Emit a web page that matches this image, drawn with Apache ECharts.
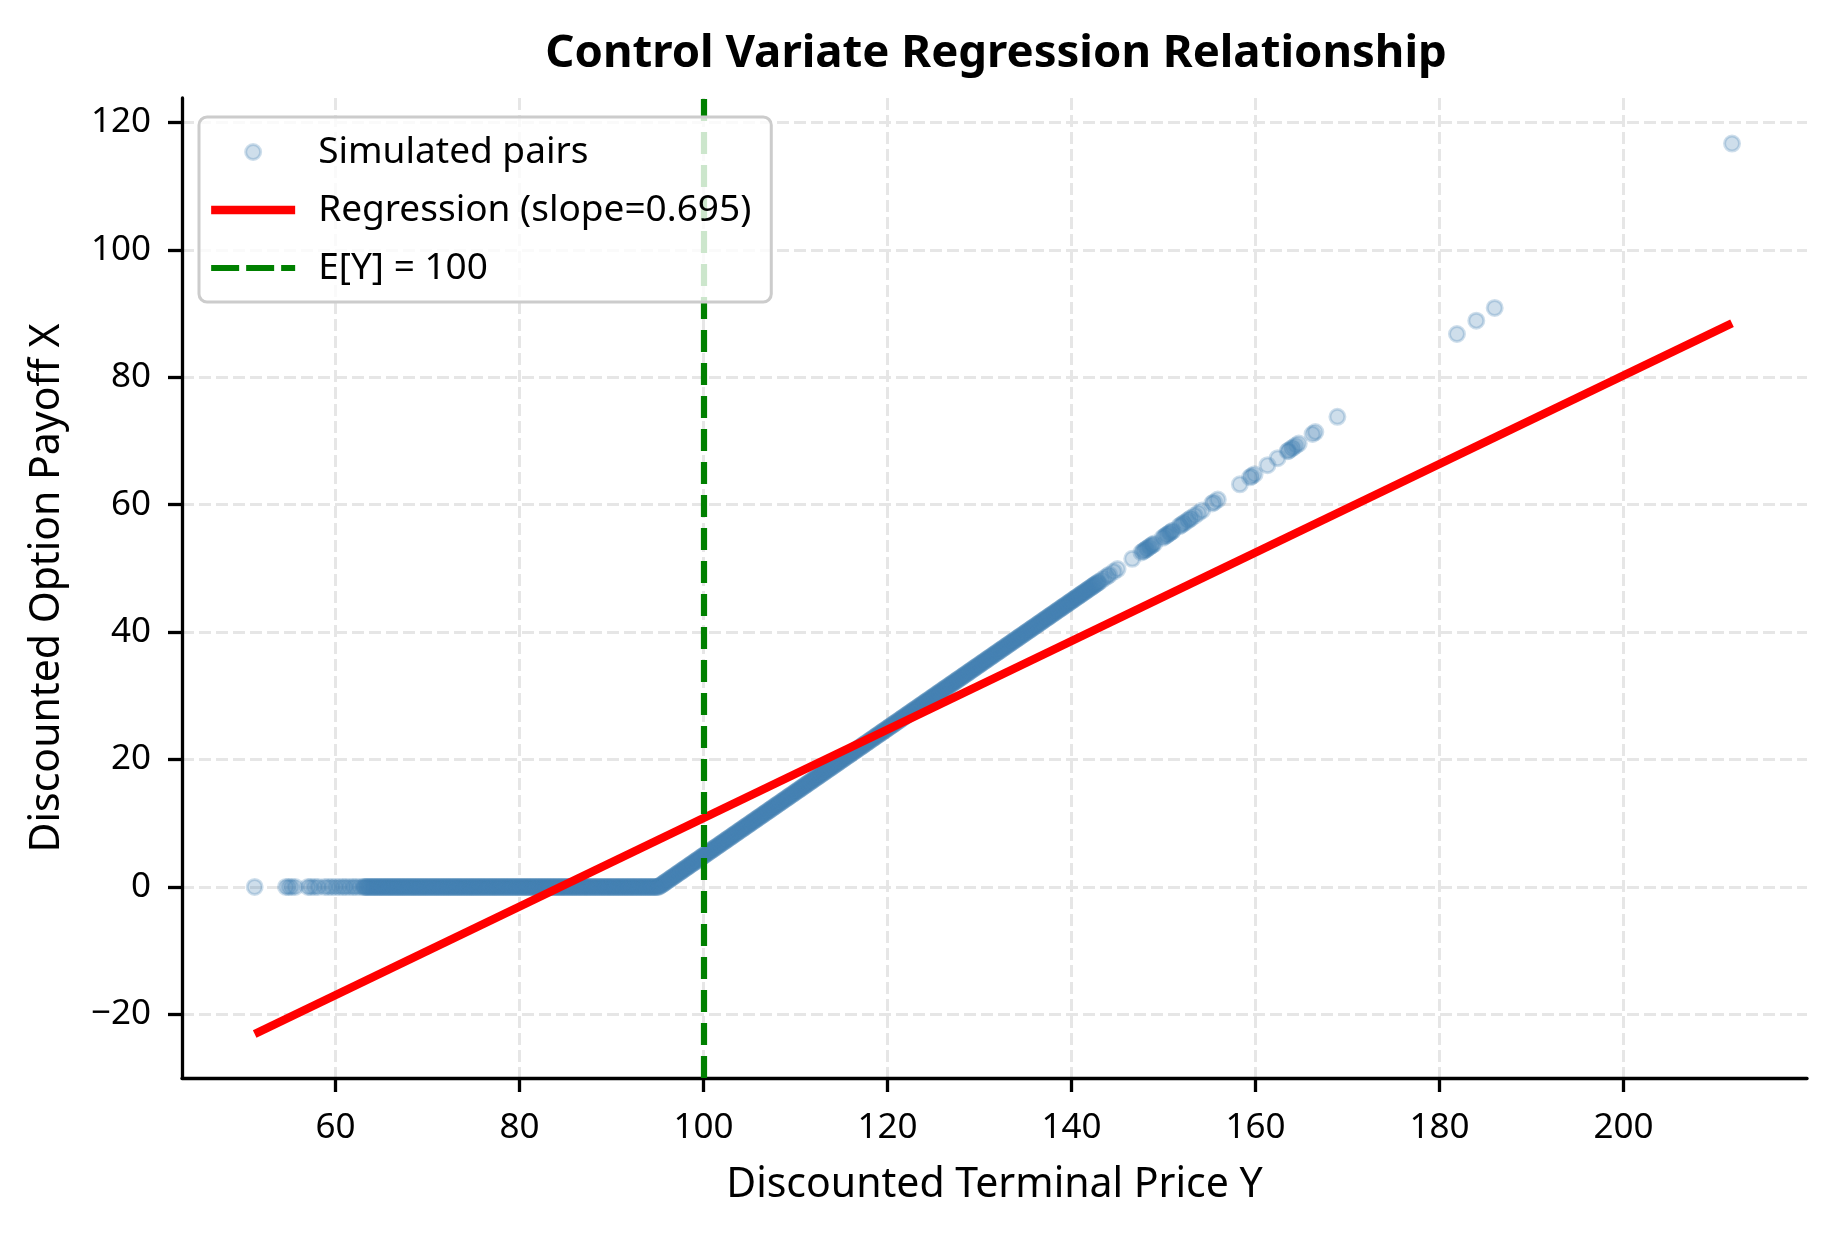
<!DOCTYPE html>
<html><head><meta charset="utf-8">
<script src="https://cdn.jsdelivr.net/npm/echarts@6/dist/echarts.min.js"></script>
<style>html,body{margin:0;padding:0;background:#fff}#c{width:1834px;height:1234px}</style>
</head><body><div id="c"></div>
<script>
// ---- data ----
const leftTailY = [51.2,54.6,54.9,55.2,55.6,57.0,57.3,57.7,58.1,58.8,59.2,59.6,60.0,60.4,60.8,61.1,61.5,61.9,62.2,62.6];
const leftTailX = [0,0,0,0,0,0,0,0,0,0,0,0,0,0,0,0,0,0,0,0];

const flatY = [63,63.25,63.5,63.75,64,64.25,64.5,64.75,65,65.25,65.5,65.75,66,66.25,66.5,66.75,67,67.25,67.5,67.75,
68,68.25,68.5,68.75,69,69.25,69.5,69.75,70,70.25,70.5,70.75,71,71.25,71.5,71.75,72,72.25,72.5,72.75,
73,73.25,73.5,73.75,74,74.25,74.5,74.75,75,75.25,75.5,75.75,76,76.25,76.5,76.75,77,77.25,77.5,77.75,
78,78.25,78.5,78.75,79,79.25,79.5,79.75,80,80.25,80.5,80.75,81,81.25,81.5,81.75,82,82.25,82.5,82.75,
83,83.25,83.5,83.75,84,84.25,84.5,84.75,85,85.25,85.5,85.75,86,86.25,86.5,86.75,87,87.25,87.5,87.75,
88,88.25,88.5,88.75,89,89.25,89.5,89.75,90,90.25,90.5,90.75,91,91.25,91.5,91.75,92,92.25,92.5,92.75,
93,93.25,93.5,93.75,94,94.25,94.5,94.75,95];
const flatX = [0,0,0,0,0,0,0,0,0,0,0,0,0,0,0,0,0,0,0,0,
0,0,0,0,0,0,0,0,0,0,0,0,0,0,0,0,0,0,0,0,
0,0,0,0,0,0,0,0,0,0,0,0,0,0,0,0,0,0,0,0,
0,0,0,0,0,0,0,0,0,0,0,0,0,0,0,0,0,0,0,0,
0,0,0,0,0,0,0,0,0,0,0,0,0,0,0,0,0,0,0,0,
0,0,0,0,0,0,0,0,0,0,0,0,0,0,0,0,0,0,0,0,
0,0,0,0,0,0,0,0,0];

// further simulated pairs lying between the ones above (the band is very dense)
const flatY2 = [63.125,63.375,63.625,63.875,64.125,64.375,64.625,64.875,65.125,65.375,65.625,65.875,66.125,66.375,66.625,66.875,
67.125,67.375,67.625,67.875,68.125,68.375,68.625,68.875,69.125,69.375,69.625,69.875,70.125,70.375,70.625,70.875,
71.125,71.375,71.625,71.875,72.125,72.375,72.625,72.875,73.125,73.375,73.625,73.875,74.125,74.375,74.625,74.875,
75.125,75.375,75.625,75.875,76.125,76.375,76.625,76.875,77.125,77.375,77.625,77.875,78.125,78.375,78.625,78.875,
79.125,79.375,79.625,79.875,80.125,80.375,80.625,80.875,81.125,81.375,81.625,81.875,82.125,82.375,82.625,82.875,
83.125,83.375,83.625,83.875,84.125,84.375,84.625,84.875,85.125,85.375,85.625,85.875,86.125,86.375,86.625,86.875,
87.125,87.375,87.625,87.875,88.125,88.375,88.625,88.875,89.125,89.375,89.625,89.875,90.125,90.375,90.625,90.875,
91.125,91.375,91.625,91.875,92.125,92.375,92.625,92.875,93.125,93.375,93.625,93.875,94.125,94.375,94.625,94.875];
const flatX2 = [0,0,0,0,0,0,0,0,0,0,0,0,0,0,0,0,
0,0,0,0,0,0,0,0,0,0,0,0,0,0,0,0,
0,0,0,0,0,0,0,0,0,0,0,0,0,0,0,0,
0,0,0,0,0,0,0,0,0,0,0,0,0,0,0,0,
0,0,0,0,0,0,0,0,0,0,0,0,0,0,0,0,
0,0,0,0,0,0,0,0,0,0,0,0,0,0,0,0,
0,0,0,0,0,0,0,0,0,0,0,0,0,0,0,0,
0,0,0,0,0,0,0,0,0,0,0,0,0,0,0,0];

const slopeY = [95.25,95.5,95.75,96,96.25,96.5,96.75,97,97.25,97.5,97.75,98,98.25,98.5,98.75,99,99.25,99.5,99.75,100,
100.25,100.5,100.75,101,101.25,101.5,101.75,102,102.25,102.5,102.75,103,103.25,103.5,103.75,104,104.25,104.5,104.75,105,
105.25,105.5,105.75,106,106.25,106.5,106.75,107,107.25,107.5,107.75,108,108.25,108.5,108.75,109,109.25,109.5,109.75,110,
110.25,110.5,110.75,111,111.25,111.5,111.75,112,112.25,112.5,112.75,113,113.25,113.5,113.75,114,114.25,114.5,114.75,115,
115.25,115.5,115.75,116,116.25,116.5,116.75,117,117.25,117.5,117.75,118,118.25,118.5,118.75,119,119.25,119.5,119.75,120,
120.25,120.5,120.75,121,121.25,121.5,121.75,122,122.25,122.5,122.75,123,123.25,123.5,123.75,124,124.25,124.5,124.75,125,
125.25,125.5,125.75,126,126.25,126.5,126.75,127,127.25,127.5,127.75,128,128.25,128.5,128.75,129,129.25,129.5,129.75,130,
130.25,130.5,130.75,131,131.25,131.5,131.75,132,132.25,132.5,132.75,133,133.25,133.5,133.75,134,134.25,134.5,134.75,135,
135.25,135.5,135.75,136,136.25,136.5,136.75,137,137.25,137.5,137.75,138,138.25,138.5,138.75,139,139.25,139.5,139.75,140,
140.25,140.5,140.75,141,141.25,141.5,141.75,142,142.25,142.5,142.75,143];
const slopeX = [0.15,0.4,0.65,0.9,1.15,1.4,1.65,1.9,2.15,2.4,2.65,2.9,3.15,3.4,3.65,3.9,4.15,4.4,4.65,4.9,
5.15,5.4,5.65,5.9,6.15,6.4,6.65,6.9,7.15,7.4,7.65,7.9,8.15,8.4,8.65,8.9,9.15,9.4,9.65,9.9,
10.15,10.4,10.65,10.9,11.15,11.4,11.65,11.9,12.15,12.4,12.65,12.9,13.15,13.4,13.65,13.9,14.15,14.4,14.65,14.9,
15.15,15.4,15.65,15.9,16.15,16.4,16.65,16.9,17.15,17.4,17.65,17.9,18.15,18.4,18.65,18.9,19.15,19.4,19.65,19.9,
20.15,20.4,20.65,20.9,21.15,21.4,21.65,21.9,22.15,22.4,22.65,22.9,23.15,23.4,23.65,23.9,24.15,24.4,24.65,24.9,
25.15,25.4,25.65,25.9,26.15,26.4,26.65,26.9,27.15,27.4,27.65,27.9,28.15,28.4,28.65,28.9,29.15,29.4,29.65,29.9,
30.15,30.4,30.65,30.9,31.15,31.4,31.65,31.9,32.15,32.4,32.65,32.9,33.15,33.4,33.65,33.9,34.15,34.4,34.65,34.9,
35.15,35.4,35.65,35.9,36.15,36.4,36.65,36.9,37.15,37.4,37.65,37.9,38.15,38.4,38.65,38.9,39.15,39.4,39.65,39.9,
40.15,40.4,40.65,40.9,41.15,41.4,41.65,41.9,42.15,42.4,42.65,42.9,43.15,43.4,43.65,43.9,44.15,44.4,44.65,44.9,
45.15,45.4,45.65,45.9,46.15,46.4,46.65,46.9,47.15,47.4,47.65,47.9];

const slopeY2 = [95.125,95.375,95.625,95.875,96.125,96.375,96.625,96.875,97.125,97.375,97.625,97.875,98.125,98.375,98.625,98.875,
99.125,99.375,99.625,99.875,100.125,100.375,100.625,100.875,101.125,101.375,101.625,101.875,102.125,102.375,102.625,102.875,
103.125,103.375,103.625,103.875,104.125,104.375,104.625,104.875,105.125,105.375,105.625,105.875,106.125,106.375,106.625,106.875,
107.125,107.375,107.625,107.875,108.125,108.375,108.625,108.875,109.125,109.375,109.625,109.875,110.125,110.375,110.625,110.875,
111.125,111.375,111.625,111.875,112.125,112.375,112.625,112.875,113.125,113.375,113.625,113.875,114.125,114.375,114.625,114.875,
115.125,115.375,115.625,115.875,116.125,116.375,116.625,116.875,117.125,117.375,117.625,117.875,118.125,118.375,118.625,118.875,
119.125,119.375,119.625,119.875,120.125,120.375,120.625,120.875,121.125,121.375,121.625,121.875,122.125,122.375,122.625,122.875,
123.125,123.375,123.625,123.875,124.125,124.375,124.625,124.875,125.125,125.375,125.625,125.875,126.125,126.375,126.625,126.875,
127.125,127.375,127.625,127.875,128.125,128.375,128.625,128.875,129.125,129.375,129.625,129.875,130.125,130.375,130.625,130.875,
131.125,131.375,131.625,131.875,132.125,132.375,132.625,132.875,133.125,133.375,133.625,133.875,134.125,134.375,134.625,134.875,
135.125,135.375,135.625,135.875,136.125,136.375,136.625,136.875,137.125,137.375,137.625,137.875,138.125,138.375,138.625,138.875,
139.125,139.375,139.625,139.875,140.125,140.375,140.625,140.875,141.125,141.375,141.625,141.875,142.125,142.375,142.625,142.875];
const slopeX2 = [0.025,0.275,0.525,0.775,1.025,1.275,1.525,1.775,2.025,2.275,2.525,2.775,3.025,3.275,3.525,3.775,
4.025,4.275,4.525,4.775,5.025,5.275,5.525,5.775,6.025,6.275,6.525,6.775,7.025,7.275,7.525,7.775,
8.025,8.275,8.525,8.775,9.025,9.275,9.525,9.775,10.025,10.275,10.525,10.775,11.025,11.275,11.525,11.775,
12.025,12.275,12.525,12.775,13.025,13.275,13.525,13.775,14.025,14.275,14.525,14.775,15.025,15.275,15.525,15.775,
16.025,16.275,16.525,16.775,17.025,17.275,17.525,17.775,18.025,18.275,18.525,18.775,19.025,19.275,19.525,19.775,
20.025,20.275,20.525,20.775,21.025,21.275,21.525,21.775,22.025,22.275,22.525,22.775,23.025,23.275,23.525,23.775,
24.025,24.275,24.525,24.775,25.025,25.275,25.525,25.775,26.025,26.275,26.525,26.775,27.025,27.275,27.525,27.775,
28.025,28.275,28.525,28.775,29.025,29.275,29.525,29.775,30.025,30.275,30.525,30.775,31.025,31.275,31.525,31.775,
32.025,32.275,32.525,32.775,33.025,33.275,33.525,33.775,34.025,34.275,34.525,34.775,35.025,35.275,35.525,35.775,
36.025,36.275,36.525,36.775,37.025,37.275,37.525,37.775,38.025,38.275,38.525,38.775,39.025,39.275,39.525,39.775,
40.025,40.275,40.525,40.775,41.025,41.275,41.525,41.775,42.025,42.275,42.525,42.775,43.025,43.275,43.525,43.775,
44.025,44.275,44.525,44.775,45.025,45.275,45.525,45.775,46.025,46.275,46.525,46.775,47.025,47.275,47.525,47.775];

const upperY = [143.3,143.6,143.9,144.1,144.6,145.0,146.6,147.6,147.8,147.9,148.1,148.2,148.4,148.5,148.7,148.8,149.0,149.9,150.1,150.3,150.4,150.6,150.7,150.9,151.0,
151.7,151.9,152.1,152.3,152.6,152.8,153.0,153.4,153.8,154.2,155.3,155.5,155.9,158.3,159.4,159.6,159.9,161.3,162.4,163.5,163.6,163.9,164.1,164.4,164.7,166.2,166.5,168.9,181.9,184.0,186.0,211.8];
const upperX = [48.2,48.5,48.8,49.0,49.5,49.9,51.5,52.5,52.7,52.8,53.0,53.1,53.3,53.4,53.6,53.7,53.9,54.8,55.0,55.2,55.3,55.5,55.6,55.8,55.9,
56.6,56.8,57.0,57.2,57.5,57.7,57.9,58.3,58.7,59.1,60.2,60.4,60.8,63.2,64.3,64.5,64.8,66.2,67.3,68.4,68.5,68.8,69.0,69.3,69.6,71.1,71.4,73.8,86.8,88.9,90.9,116.7];

const regressionY = [51.2, 211.8];
const regressionX = [-23.1, 88.5];
const expectedY = 100;

const xTicks = [60, 80, 100, 120, 140, 160, 180, 200];
const yTicks = [-20, 0, 20, 40, 60, 80, 100, 120];

// ---- build chart ----
const allY = leftTailY.concat(flatY, flatY2, slopeY, slopeY2, upperY);
const allX = leftTailX.concat(flatX, flatX2, slopeX, slopeX2, upperX);
const scatterData = allY.map((y, i) => [y, allX[i]]);
const regData = regressionY.map((y, i) => [y, regressionX[i]]);

const F = 'Noto Sans';
const fmt = v => (v < 0 ? '\u2212' + Math.abs(v) : String(v));
const chart = echarts.init(document.getElementById('c'), null, {renderer: 'canvas'});
chart.setOption({
  animation: false,
  backgroundColor: '#ffffff',
  title: {
    text: 'Control Variate Regression Relationship',
    left: 996, top: 31, textAlign: 'center', padding: 0,
    textStyle: {fontFamily: F, fontWeight: 'bold', fontSize: 45.5, color: '#000'}
  },
  legend: {
    orient: 'vertical', left: 199, top: 117, z: 10,
    padding: [15, 20, 14, 8],
    itemWidth: 84, itemHeight: 15, itemGap: 18,
    backgroundColor: 'rgba(255,255,255,0.8)', borderColor: '#cccccc', borderWidth: 3, borderRadius: 8,
    textStyle: {fontFamily: F, fontSize: 37, color: '#000', lineHeight: 40, padding: [0, 0, 0, 18]},
    data: [
      {name: 'Simulated pairs', itemStyle: {borderWidth: 3}},
      {name: 'Regression (slope=0.695)', lineStyle: {width: 8.3}, itemStyle: {color: 'rgba(0,0,0,0)', borderWidth: 0, opacity: 0}},
      {name: 'E[Y] = 100', lineStyle: {width: 6.2, type: [28, 7]}, itemStyle: {color: 'rgba(0,0,0,0)', borderWidth: 0, opacity: 0}}
    ]
  },
  grid: {left: 182, top: 98, width: 1625, height: 980, containLabel: false, outerBoundsMode: 'none'},
  xAxis: {
    type: 'value', min: 43.3, max: 219.95,
    name: 'Discounted Terminal Price Y', nameLocation: 'middle', nameGap: 87,
    nameTextStyle: {fontFamily: F, fontSize: 41, color: '#000'},
    axisLine: {onZero: false, lineStyle: {color: '#000', width: 3.3}},
    axisTick: {customValues: xTicks, length: 14, lineStyle: {color: '#000', width: 3.3}},
    axisLabel: {customValues: xTicks, margin: 33, fontFamily: F, fontSize: 35, color: '#000', formatter: fmt},
    splitLine: {show: true, lineStyle: {color: '#e6e6e6', width: 3, type: [12, 5]}}
  },
  yAxis: {
    type: 'value', min: -30.0, max: 123.85,
    name: 'Discounted Option Payoff X', nameLocation: 'middle', nameGap: 114,
    nameTextStyle: {fontFamily: F, fontSize: 41, color: '#000'},
    axisLine: {onZero: false, lineStyle: {color: '#000', width: 3.3}},
    axisTick: {customValues: yTicks, length: 14, lineStyle: {color: '#000', width: 3.3}},
    axisLabel: {customValues: yTicks, margin: 31, fontFamily: F, fontSize: 35, color: '#000', formatter: fmt},
    splitLine: {show: true, lineStyle: {color: '#e6e6e6', width: 3, type: [12, 5]}}
  },
  series: [
    {
      name: 'Simulated pairs', type: 'scatter', z: 2,
      symbol: 'circle', symbolSize: 15,
      itemStyle: {color: 'rgba(70,130,180,0.33)', borderColor: 'rgba(70,130,180,0.33)', borderWidth: 3},
      emphasis: {disabled: true},
      data: scatterData
    },
    {
      name: 'Regression (slope=0.695)', type: 'line', z: 3,
      symbol: 'none', showSymbol: false,
      lineStyle: {color: '#ff0000', width: 8.3, cap: 'butt'},
      itemStyle: {color: '#ff0000'},
      emphasis: {disabled: true},
      data: regData
    },
    {
      name: 'E[Y] = 100', type: 'line', z: 4,
      symbol: 'none', showSymbol: false,
      lineStyle: {color: '#008000', width: 6.2, type: [22, 11]},
      itemStyle: {color: '#008000'},
      data: [],
      markLine: {
        silent: true, symbol: ['none', 'none'], label: {show: false},
        lineStyle: {color: '#008000', width: 6.2, type: [22, 11]},
        emphasis: {disabled: true},
        data: [{xAxis: expectedY}]
      }
    }
  ]
});
</script></body></html>
